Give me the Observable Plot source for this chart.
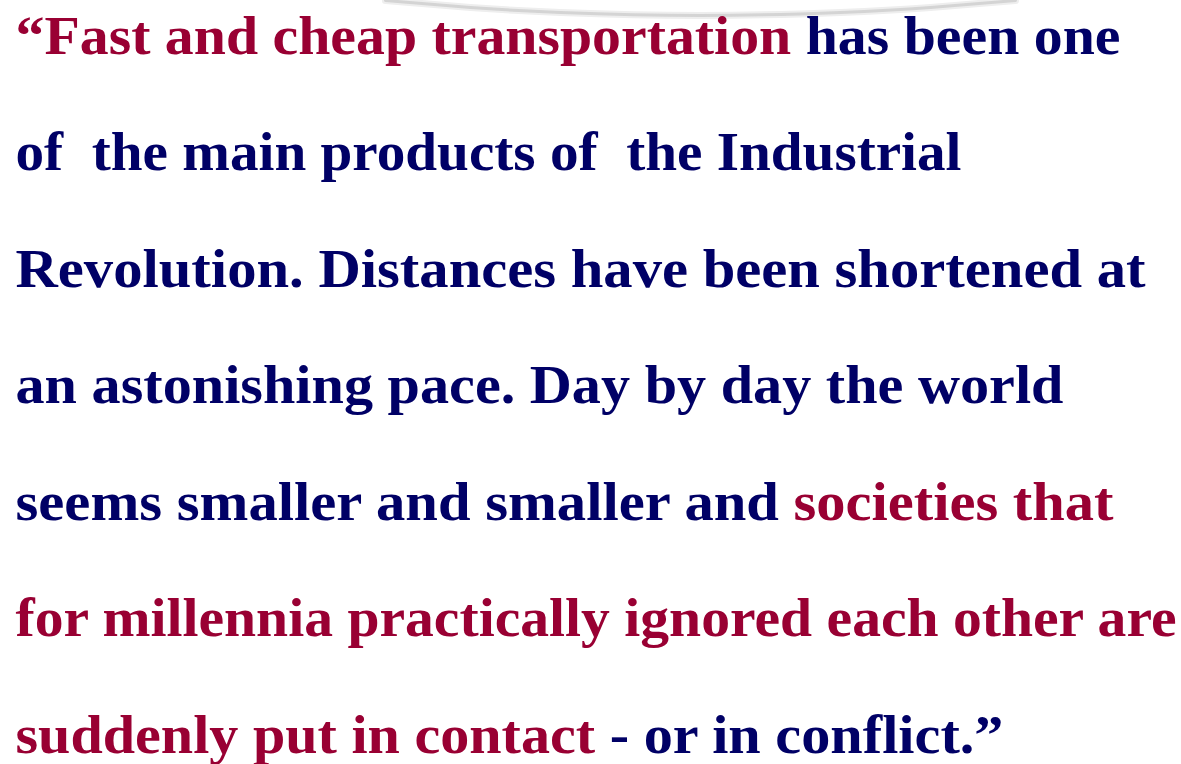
<!DOCTYPE html>
<html><head><meta charset="utf-8">
<script src="https://cdn.jsdelivr.net/npm/d3@7"></script>
<script src="https://cdn.jsdelivr.net/npm/@observablehq/plot@0.6"></script>
<style>html,body{margin:0;padding:0;background:#fff;overflow:hidden}</style>
</head><body><div id="chart"></div>
<script>
// ---- text content ----
const segmentText = [
  "\u201CFast and cheap transportation", "has been one",
  "of  the main products of  the Industrial",
  "Revolution. Distances have been shortened at",
  "an astonishing pace. Day by day the world",
  "seems smaller and smaller and", "societies that",
  "for millennia practically ignored each other are",
  "suddenly put in contact", "- or in conflict.\u201D"
];
const segmentLine = [0, 0, 1, 2, 3, 4, 4, 5, 6, 6];
const segmentTone = ["highlight", "body", "body", "body", "body", "body", "highlight", "highlight", "highlight", "body"];

// ---- layout ----
const lineLeft = 15;
const lineRight = [1120, 961, 1145, 1063, 1113, 1176, 1003];
const firstBaseline = 53, lastBaseline = 752;
const arcX = [385, 470, 560, 700, 840, 930, 1015];
const arcY = [0, 7, 12, 15, 12, 7, 0];

const W = 1181, H = 764;
const fontSize = 54;
const fontFamily = '"Liberation Serif", "Times New Roman", serif';

const ctx = document.createElement("canvas").getContext("2d");
ctx.font = `bold ${fontSize}px ${fontFamily}`;
const measure = (t) => ctx.measureText(t).width;
const spaceW = measure(" ");
const baseline = d3.scaleLinear([0, 6], [firstBaseline, lastBaseline]);

const rows = [];
for (let li = 0; li < lineRight.length; ++li) {
  const idx = segmentText.map((t, i) => i).filter(i => segmentLine[i] === li);
  const widths = idx.map(i => measure(segmentText[i]));
  const total = d3.sum(widths) + spaceW * (idx.length - 1);
  const s = (lineRight[li] - lineLeft) / total;
  let cum = 0;
  idx.forEach((i, k) => {
    rows.push({text: segmentText[i], tone: segmentTone[i], x: lineLeft + s * cum, y: baseline(li), len: s * widths[k]});
    cum += widths[k] + spaceW;
  });
}
const arc = arcX.map((x, i) => ({x, y: arcY[i]}));

const svg = Plot.plot({
  width: W, height: H,
  margin: 0,
  style: {background: "#fff", overflow: "visible"},
  x: {domain: [0, W], range: [0, W], axis: null},
  y: {domain: [0, H], range: [0, H], axis: null},
  color: {domain: ["highlight", "body"], range: ["#990033", "#000066"]},
  marks: [
    Plot.line(arc, {x: "x", y: "y", curve: "natural", stroke: "#eeeeee", strokeWidth: 7}),
    Plot.line(arc, {x: "x", y: "y", curve: "natural", stroke: "#d4d4d4", strokeWidth: 3}),
    Plot.text(rows, {
      x: "x", y: "y", text: "text", fill: "tone",
      textAnchor: "start", lineAnchor: "bottom",
      fontSize, fontWeight: "bold", fontFamily
    })
  ]
});
const texts = svg.querySelectorAll('g[aria-label="text"] text');
texts.forEach((el, i) => {
  el.setAttribute("textLength", rows[i].len);
  el.setAttribute("lengthAdjust", "spacingAndGlyphs");
  el.style.whiteSpace = "pre";
});
document.getElementById("chart").appendChild(svg);
</script>
</body></html>
